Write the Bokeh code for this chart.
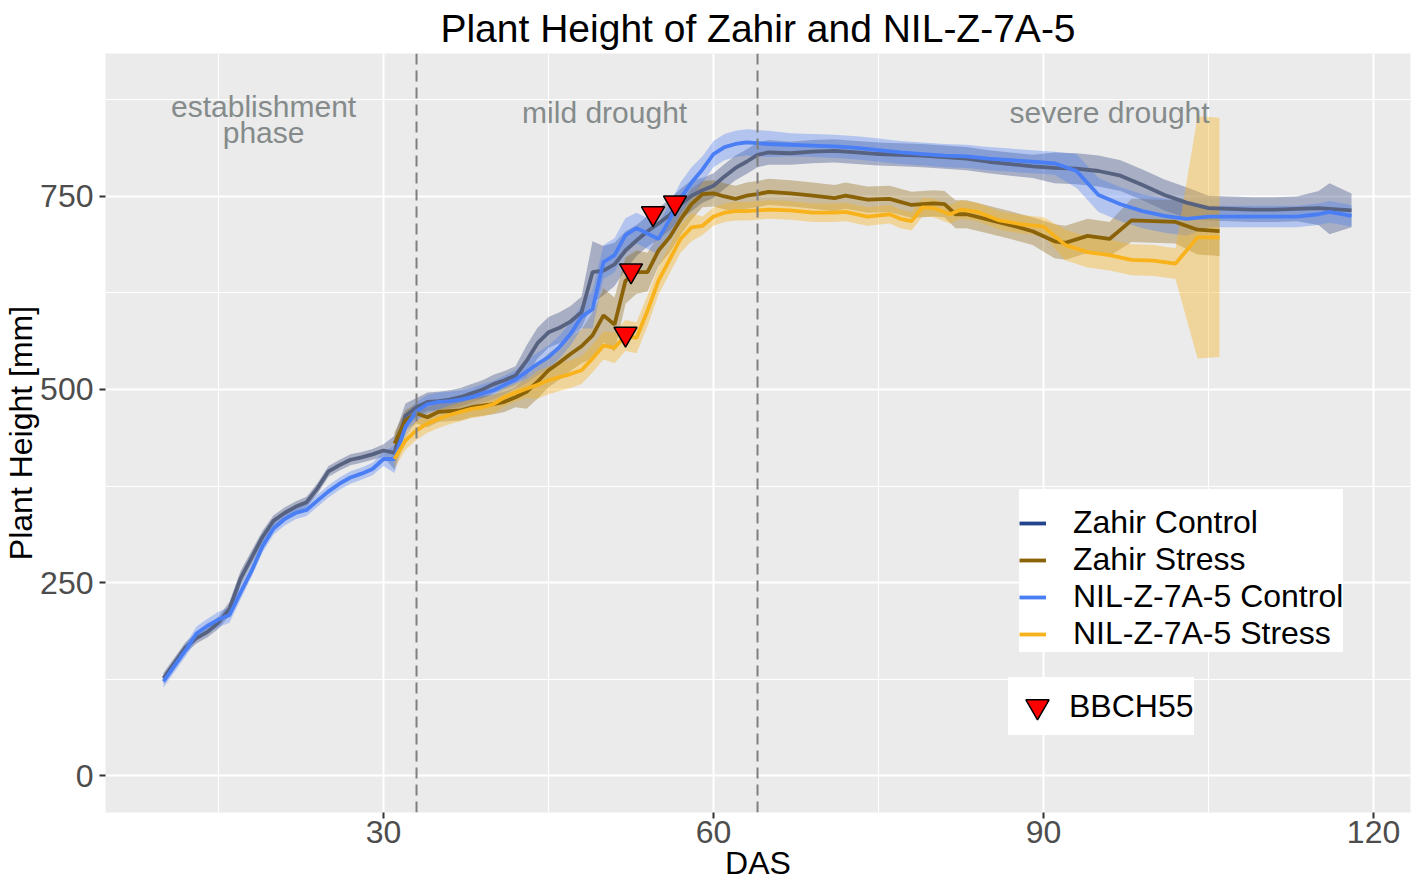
from bokeh.plotting import figure
from bokeh.models import (ColumnDataSource, Range1d, FixedTicker, Legend, LegendItem, Span)
from bokeh.core.properties import value
from bokeh.embed import file_html
from bokeh.resources import INLINE

FONT = "Liberation Sans"
NAN = float("nan")

# ---------------- data ----------------
ctrl_das = [10, 11, 12, 13, 14, 15, 16, 17, 18, 19, 20, 21, 22, 23, 24, 25, 26, 27, 28, 29,
            30, 31, 32, 33, 34, 35, 36, 37, 38, 39, 40, 41, 42, 43, 44, 45, 46, 47, 48, 49,
            50, 51, 52, 53, 54, 55, 56, 57, 58, 59, 60, 61, 62, 63, 64, 65,
            67, 69, 71, 73, 75, 77, 79, 81, 83, 85, 87, 89, 91, 93, 95, 97, 99, 101, 103,
            105, 107, 109, 111, 113, 115, 116, 118]

zahir_ctrl = [126, 146, 166, 178, 186, 198, 216, 255, 282, 309, 330, 340, 348, 354, 372, 394, 402, 409, 412, 416,
              421, 418, 466, 477, 484, 485, 487, 490, 495, 500, 507, 512, 518, 537, 560, 574, 580, 588, 600, 652,
              654, 662, 680, 693, 705, 715, 726, 740, 751, 758, 764, 776, 787, 795, 804, 807,
              806, 808, 809, 807, 805, 804, 803, 801, 799, 795, 792, 789, 787, 786, 783, 777, 765, 752, 742,
              735, 734, 733, 733, 734, 735, 734, 732]
zahir_ctrl_sd = [7, 7, 7, 7, 7, 8, 9, 10, 9, 8, 7, 7, 7, 7, 7, 7, 7, 7, 7, 7,
                 8, 22, 16, 12, 12, 12, 12, 12, 12, 12, 12, 12, 12, 20, 20, 20, 20, 20, 20, 40,
                 32, 28, 25, 20, 20, 20, 20, 20, 20, 16, 16, 16, 16, 16, 16, 16,
                 15, 15, 15, 15, 15, 15, 15, 15, 15, 15, 15, 15, 20, 20, 20, 20, 20, 20, 20,
                 16, 16, 16, 16, 16, 22, 33, 22]

nil_ctrl = [122, 142, 162, 184, 194, 202, 208, 237, 265, 297, 320, 332, 340, 344, 356, 368, 378, 386, 391, 397,
            410, 410, 452, 472, 481, 484, 485, 487, 490, 495, 499, 506, 513, 523, 533, 542, 555, 572, 594, 604,
            665, 674, 700, 709, 702, 695, 720, 748, 768, 785, 805, 814, 818, 820, 819, 818,
            817, 816, 815, 813, 810, 807, 805, 803, 802, 799, 797, 795, 793, 783, 752, 740, 731, 725, 721,
            724, 724, 724, 724, 724, 727, 730, 725]
nil_ctrl_sd = [8, 8, 8, 9, 9, 10, 10, 9, 8, 8, 8, 8, 8, 8, 8, 8, 8, 8, 8, 8,
               9, 18, 14, 12, 12, 12, 12, 12, 12, 12, 12, 12, 12, 15, 15, 15, 15, 15, 15, 25,
               22, 22, 22, 20, 20, 20, 20, 20, 20, 17, 17, 17, 17, 17, 17, 17,
               15, 15, 15, 15, 15, 15, 15, 15, 15, 15, 15, 15, 15, 22, 22, 22, 22, 22, 22,
               14, 14, 14, 14, 14, 14, 14, 14]

zs_das = [31, 32, 33, 34, 35, 36, 37, 38, 39, 40, 41, 42, 43, 44, 45, 46, 47, 48, 49, 50,
          51, 52, 53, 54, 55, 56, 57, 58, 59, 60, 61, 62, 63, 64, 65,
          67, 69, 71, 72, 74, 76, 78, 80, 81, 82, 83, 85, 87, 89, 91, 92, 94, 96, 98, 100,
          102, 104, 106]
zahir_stress = [430, 460, 469, 464, 471, 472, 473, 477, 479, 481, 484, 490, 497, 510, 525, 535, 546, 556, 570, 596,
                584, 641, 652, 652, 680, 697, 720, 740, 753, 754, 750, 747, 751, 753, 756,
                754, 751, 748, 751, 746, 747, 739, 741, 740, 727, 727, 720, 713, 705, 692, 690, 699, 695, 719, 718,
                717, 707, 705]
zahir_stress_sd = [15, 13, 13, 13, 13, 13, 13, 13, 13, 13, 13, 13, 22, 22, 22, 22, 22, 22, 30, 35,
                   35, 30, 28, 25, 20, 20, 20, 20, 17, 17, 17, 17, 17, 17, 17,
                   17, 17, 17, 17, 17, 17, 17, 17, 17, 18, 18, 18, 18, 18, 22, 22, 22, 22, 28, 28,
                   28, 32, 32]

ns_das = [31, 32, 33, 34, 35, 36, 37, 38, 39, 40, 41, 42, 43, 44, 45, 46, 47, 48, 49, 50,
          51, 52, 53, 54, 55, 56, 57, 58, 59, 60, 61, 62, 63, 64, 65,
          67, 69, 71, 72, 74, 76, 77, 78, 79, 80, 81.5, 82.5, 84, 86, 88, 90, 92, 94, 96, 98,
          100, 102, 104, 106]
nil_stress = [410, 434, 447, 456, 462, 467, 471, 475, 477, 481, 490, 496, 501, 506, 512, 516, 520, 525, 540, 557,
              554, 570, 567, 602, 641, 668, 695, 710, 712, 724, 729, 731, 731, 732, 733,
              732, 729, 729, 730, 724, 727, 721, 718, 736, 735, 727, 733, 730, 719, 714, 711, 687, 678, 674, 668,
              667, 663, 697, 697]
nil_stress_sd = [12, 12, 12, 12, 12, 12, 12, 12, 12, 12, 12, 12, 12, 18, 18, 18, 18, 18, 18, 18,
                 20, 20, 20, 20, 18, 18, 18, 18, 12, 12, 12, 12, 12, 12, 12,
                 12, 12, 12, 12, 12, 12, 12, 12, 12, 12, 12, 12, 12, 12, 12, 12, 20, 20, 20, 20,
                 20, 20, 157, 155]

bbch_das = [52.0, 52.5, 54.5, 56.5]
bbch_height = [572, 654, 728, 742]

phase_bounds = [33, 64]
phase_labels = ["establishment\nphase", "mild drought", "severe drought"]
phase_x = [19.1, 50.1, 96.0]
phase_y = [850, 859, 859]

x_ticks = [30, 60, 90, 120]
x_minor = [15, 45, 75, 105]
y_ticks = [0, 250, 500, 750]
y_minor = [-125, 125, 375, 625, 875]

series_names = ["Zahir Control", "Zahir Stress", "NIL-Z-7A-5 Control", "NIL-Z-7A-5 Stress"]
line_colors = ["#56627f", "#8a6208", "#4a7ef5", "#f8b31c"]
ribbon_colors = ["#44548a", "#8a6208", "#4a7ef5", "#f8b31c"]
ribbon_alpha = [0.40, 0.35, 0.35, 0.38]
key_colors = ["#24448f", "#8a6208", "#4a7ef5", "#f8b31c"]

# ---------------- figure ----------------
p = figure(width=1417, height=883, output_backend="svg", toolbar_location=None,
           x_range=Range1d(4.727, 123.36), y_range=Range1d(-47.9, 935.2),
           min_border_left=105, min_border_right=7, min_border_top=53, min_border_bottom=71,
           title="Plant Height of Zahir and NIL-Z-7A-5")
p.background_fill_color = "#ebebeb"
p.border_fill_color = "white"
p.outline_line_color = None

p.title.align = "center"
p.title.text_font = FONT
p.title.text_font_size = "39px"
p.title.text_font_style = "normal"
p.title.text_color = "black"
p.title.standoff = 8
p.title.offset = 0

for ax in (p.xaxis[0], p.yaxis[0]):
    ax.axis_line_color = None
    ax.major_tick_line_color = "#333333"
    ax.major_tick_line_width = 2
    ax.major_tick_out = 6
    ax.major_tick_in = 0
    ax.minor_tick_out = 0
    ax.minor_tick_in = 0
    ax.major_label_text_font = FONT
    ax.major_label_text_font_size = "32px"
    ax.major_label_text_color = "#4d4d4d"
    ax.axis_label_text_font = FONT
    ax.axis_label_text_font_size = "32px"
    ax.axis_label_text_font_style = "normal"
    ax.axis_label_text_color = "black"

p.xaxis.ticker = FixedTicker(ticks=x_ticks, minor_ticks=x_minor)
p.yaxis.ticker = FixedTicker(ticks=y_ticks, minor_ticks=y_minor)
p.xaxis.axis_label = "DAS"
p.yaxis.axis_label = "Plant Height [mm]"
p.xaxis.major_label_standoff = 2
p.xaxis.axis_label_standoff = -1
p.yaxis.major_label_standoff = 6
p.yaxis.axis_label_standoff = -2

for g in (p.xgrid[0], p.ygrid[0]):
    g.grid_line_color = "white"
    g.grid_line_width = 2
    g.minor_grid_line_color = "white"
    g.minor_grid_line_width = 1

# ribbons and lines
all_x = [ctrl_das, zs_das, ctrl_das, ns_das]
all_y = [zahir_ctrl, zahir_stress, nil_ctrl, nil_stress]
all_sd = [zahir_ctrl_sd, zahir_stress_sd, nil_ctrl_sd, nil_stress_sd]

for i in range(4):
    lo = [m - s for m, s in zip(all_y[i], all_sd[i])]
    hi = [m + s for m, s in zip(all_y[i], all_sd[i])]
    src = ColumnDataSource(dict(x=all_x[i], lo=lo, hi=hi))
    p.varea(x="x", y1="lo", y2="hi", source=src, fill_color=ribbon_colors[i], fill_alpha=ribbon_alpha[i])

for i in range(4):
    src = ColumnDataSource(dict(x=all_x[i], y=all_y[i]))
    p.line(x="x", y="y", source=src, line_color=line_colors[i], line_width=3.8)

# phase boundaries
for b in phase_bounds:
    p.add_layout(Span(location=b, dimension="height", line_color="#7f7f7f",
                      line_width=2, line_dash="11 6"))

# phase labels
p.text(x=phase_x, y=phase_y, text=phase_labels, text_align="center", text_baseline="middle",
       text_font=value(FONT), text_font_size="30px", text_color="#858b8b", text_line_height=0.8)

# BBCH55 markers
bsrc = ColumnDataSource(dict(x=bbch_das, y=bbch_height))
bbch_r = p.scatter(x="x", y="y", source=bsrc, marker="inverted_triangle", size=23,
                   fill_color="#ff0000", line_color="black", line_width=1.5)

# legend key renderers (colour of the legend keys; nothing drawn in the plot)
key_renderers = []
for i in range(4):
    kr = p.line(x=[NAN], y=[NAN], line_color=key_colors[i], line_width=3.8)
    key_renderers.append(kr)

leg1 = Legend(items=[LegendItem(label=series_names[i], renderers=[key_renderers[i]]) for i in range(4)],
              location=(914, 160), title=" ")
leg1.glyph_width = 27
leg1.glyph_height = 30
leg1.label_height = 30
leg1.label_standoff = 27
leg1.padding = 9
leg1.title_text_font_size = "10px"
leg1.title_standoff = 4

leg2 = Legend(items=[LegendItem(label="BBCH55", renderers=[bbch_r])], location=(903, 77))
leg2.glyph_width = 58
leg2.glyph_height = 58
leg2.label_height = 30
leg2.label_standoff = 3
leg2.padding = 4

for lg in (leg1, leg2):
    lg.background_fill_color = "white"
    lg.background_fill_alpha = 1.0
    lg.border_line_color = None
    lg.label_text_font = FONT
    lg.label_text_font_size = "32px"
    lg.label_text_color = "black"
    lg.spacing = 0
    lg.margin = 0
    p.add_layout(lg)

open("out.html", "w").write(file_html(p, INLINE))
